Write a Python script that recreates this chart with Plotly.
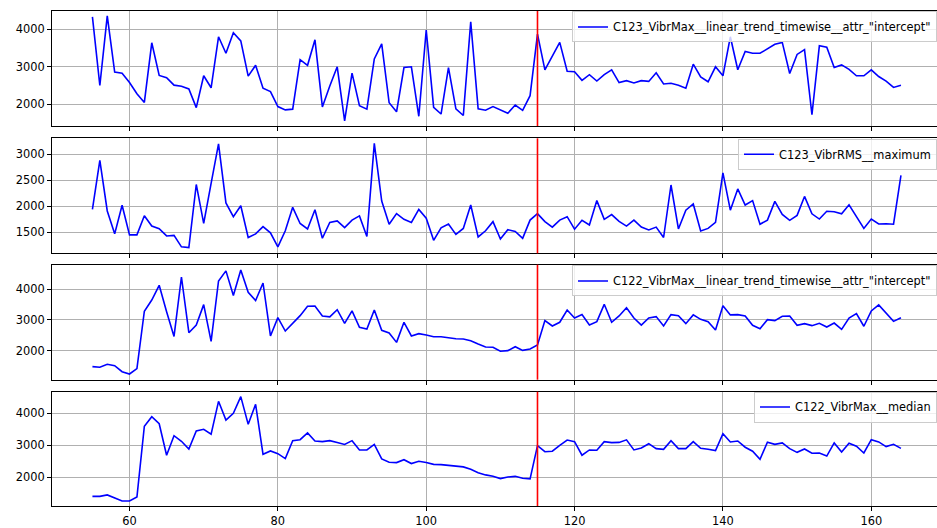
import plotly.graph_objects as go
from plotly.subplots import make_subplots

# sample index (time step)
idx = list(range(55, 165))
split_x = 115  # change point marker

c123_max_intercept = [
    4330, 2500, 4360, 2860, 2830, 2580, 2280, 2050, 3640, 2770,
    2710, 2510, 2480, 2410, 1910, 2760, 2440, 3800, 3360, 3910,
    3690, 2750, 3040, 2430, 2340, 1940, 1850, 1870, 3190, 3040,
    3720, 1930, 2490, 3000, 1560, 2830, 1960, 1870, 3210, 3610,
    2040, 1800, 2980, 3000, 1680, 3980, 1920, 1740, 2980, 1880,
    1700, 4200, 1880, 1840, 1940, 1840, 1760, 1980, 1840, 2230,
    3870, 2920, 3290, 3650, 2880, 2870, 2640, 2790, 2620, 2790,
    2920, 2580, 2630, 2570, 2630, 2610, 2840, 2540, 2560, 2510,
    2430, 3070, 2730, 2600, 3000, 2760, 3800, 2920, 3410, 3360,
    3360, 3470, 3600, 3650, 2820, 3330, 3460, 1720, 3560, 3520,
    2980, 3050, 2930, 2760, 2760, 2920, 2740, 2620, 2450, 2510,
]

c123_rms_max = [
    1940, 2885, 1910, 1470, 2020, 1450, 1450, 1820, 1620, 1570,
    1430, 1440, 1220, 1205, 2420, 1670, 2440, 3200, 2065, 1800,
    2010, 1400, 1470, 1610, 1490, 1220, 1530, 1980, 1670, 1565,
    1935, 1385, 1690, 1720, 1590, 1735, 1815, 1420, 3210, 2100,
    1655, 1860, 1750, 1690, 1940, 1770, 1345, 1585, 1660, 1460,
    1575, 2025, 1410, 1530, 1705, 1370, 1550, 1515, 1385, 1735,
    1860, 1705, 1600, 1735, 1800, 1560, 1730, 1640, 2110, 1750,
    1840, 1710, 1620, 1735, 1600, 1545, 1600, 1400, 2410, 1565,
    1925, 2045, 1525, 1575, 1690, 2645, 1925, 2335, 2025, 2110,
    1655, 1735, 2095, 1845, 1730, 1825, 2190, 1855, 1755, 1905,
    1895, 1855, 2030, 1790, 1575, 1755, 1660, 1665, 1655, 2595,
]

c122_max_intercept = [
    1480, 1460, 1555, 1510, 1315, 1240, 1415, 3285, 3650, 4130,
    3270, 2465, 4400, 2585, 2835, 3500, 2305, 4270, 4600, 3795,
    4630, 3900, 3630, 4205, 2480, 3075, 2640, 2890, 3140, 3445,
    3455, 3130, 3100, 3335, 2890, 3295, 2760, 2705, 3325, 2665,
    2575, 2270, 2925, 2480, 2555, 2510, 2455, 2455, 2415, 2390,
    2380, 2325, 2215, 2120, 2110, 1980, 2000, 2130, 2010, 2055,
    2185, 2980, 2805, 2925, 3325, 3065, 3175, 2835, 2945, 3510,
    2925, 3130, 3400, 3065, 2835, 3065, 3110, 2805, 3175, 3140,
    2880, 3165, 3020, 2945, 2675, 3465, 3165, 3175, 3130, 2825,
    2715, 3010, 2980, 3120, 3130, 2825, 2880, 2815, 2890, 2770,
    2900, 2695, 3065, 3205, 2795, 3295, 3490, 3230, 2955, 3075,
]

c122_max_median = [
    1405, 1405, 1450, 1365, 1260, 1260, 1385, 3595, 3895, 3675,
    2690, 3300, 3125, 2885, 3450, 3500, 3345, 4375, 3790, 4000,
    4520, 3655, 4280, 2720, 2825, 2740, 2585, 3145, 3175, 3385,
    3135, 3115, 3145, 3085, 3025, 3145, 2855, 2855, 3030, 2575,
    2470, 2460, 2550, 2430, 2500, 2460, 2405, 2395, 2365, 2335,
    2325, 2250, 2145, 2075, 2030, 1960, 2010, 2030, 1970, 1950,
    2990, 2800, 2815, 3000, 3165, 3115, 2690, 2855, 2845, 3115,
    3085, 3090, 3170, 2855, 2915, 3050, 2895, 2875, 3145, 2895,
    2895, 3115, 2905, 2875, 2835, 3365, 3105, 3135, 2940, 2815,
    2565, 3095, 3030, 3075, 2895, 2780, 2885, 2750, 2760, 2665,
    3075, 2790, 3065, 2970, 2760, 3175, 3105, 2960, 3030, 2905,
]

series_names = [
    'C123_VibrMax__linear_trend_timewise__attr_"intercept"',
    "C123_VibrRMS__maximum",
    'C122_VibrMax__linear_trend_timewise__attr_"intercept"',
    "C122_VibrMax__median",
]
series_values = [c123_max_intercept, c123_rms_max, c122_max_intercept, c122_max_median]
y_ranges = [[1421, 4488], [1096, 3308], [1055, 4801], [1103, 4675]]
y_ticks = [[2000, 3000, 4000], [1500, 2000, 2500, 3000], [2000, 3000, 4000], [2000, 3000, 4000]]
x_ticks = [60, 80, 100, 120, 140, 160]

# panel vertical extents (paper coords) and legend tops
domains = [[0.7677, 1.0], [0.5105, 0.7428], [0.2552, 0.4875], [0.0, 0.2309]]
legend_tops = [0.999, 0.7418, 0.4859, 0.2313]

FONT = "DejaVu Sans"
FS = 11.4

fig = make_subplots(rows=4, cols=1, shared_xaxes=True)

legend_keys = ["legend", "legend2", "legend3", "legend4"]
for i, (name, vals) in enumerate(zip(series_names, series_values)):
    fig.add_trace(
        go.Scatter(
            x=idx, y=vals, mode="lines", name=name,
            line=dict(color="#0000ff", width=1.6),
            legend=legend_keys[i], showlegend=True,
        ),
        row=i + 1, col=1,
    )
    fig.add_vline(x=split_x, line=dict(color="#ff0000", width=1.6), row=i + 1, col=1)

axis_common = dict(
    showgrid=True, gridcolor="#b0b0b0", gridwidth=0.8,
    zeroline=False, ticks="outside", ticklen=4, tickwidth=0.8,
    tickcolor="#000000", linecolor="#000000", linewidth=0.8,
    showline=True, tickfont=dict(family=FONT, size=FS, color="#000000"),
)

for i in range(4):
    xa = "xaxis" if i == 0 else f"xaxis{i + 1}"
    ya = "yaxis" if i == 0 else f"yaxis{i + 1}"
    fig.layout[xa].update(
        range=[49.55, 168.86], tickvals=x_ticks, mirror=True,
        showticklabels=(i == 3), automargin=False, **axis_common,
    )
    fig.layout[ya].update(
        domain=domains[i], range=y_ranges[i], tickvals=y_ticks[i],
        mirror=False, automargin=False, **axis_common,
    )

legend_style = dict(
    x=1.0, xanchor="right", yanchor="top",
    bgcolor="rgba(255,255,255,0.8)", bordercolor="#cccccc", borderwidth=1,
    font=dict(family=FONT, size=FS, color="#000000"),
    itemwidth=30, tracegroupgap=0,
)
fig.update_layout(
    legend=dict(y=legend_tops[0], **legend_style),
    legend2=dict(y=legend_tops[1], **legend_style),
    legend3=dict(y=legend_tops[2], **legend_style),
    legend4=dict(y=legend_tops[3], **legend_style),
    width=937, height=528,
    margin=dict(l=52, r=0, t=11, b=22, pad=0),
    plot_bgcolor="#ffffff", paper_bgcolor="#ffffff",
    font=dict(family=FONT, size=FS, color="#000000"),
)

fig.write_html("out.html")
